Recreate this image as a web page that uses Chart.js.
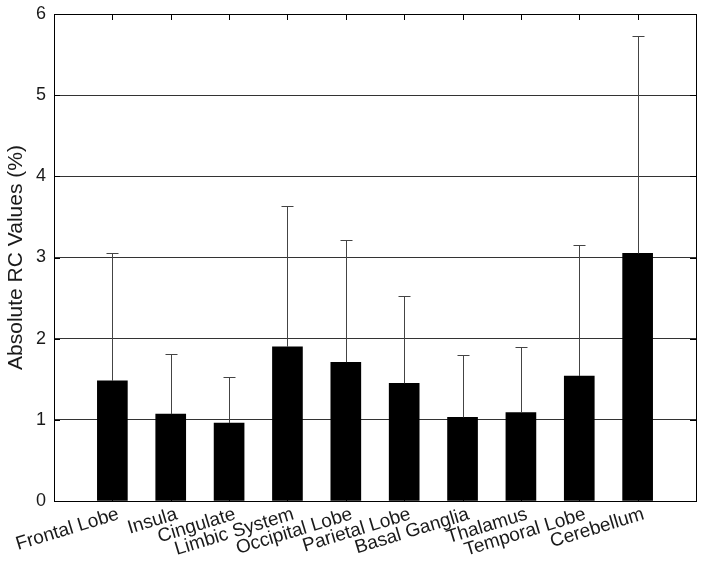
<!DOCTYPE html>
<html>
<head>
<meta charset="utf-8">
<script src="https://cdn.jsdelivr.net/npm/chart.js@4.4.1/dist/chart.umd.min.js"></script>
<style>
  html, body { margin: 0; padding: 0; background: #ffffff; }
  #wrap { width: 704px; height: 570px; }
</style>
</head>
<body>
<div id="wrap"><canvas id="c" width="704" height="570"></canvas></div>
<script>
// ---- data ----
const categories = ['Frontal Lobe', 'Insula', 'Cingulate', 'Limbic System', 'Occipital Lobe',
                    'Parietal Lobe', 'Basal Ganglia', 'Thalamus', 'Temporal Lobe', 'Cerebellum'];
const meanValues = [1.48, 1.07, 0.96, 1.90, 1.71, 1.45, 1.03, 1.09, 1.54, 3.05];
const errorValues = [1.58, 0.74, 0.57, 1.73, 1.50, 1.07, 0.77, 0.81, 1.61, 2.68];
const yTicks = [0, 1, 2, 3, 4, 5, 6];
const yTitle = 'Absolute RC Values (%)';

// axis runs from 0 to 11 like the original: pad with empty slots at both ends
const axisLabels = [''].concat(categories, ['']);
const barData = [null].concat(meanValues, [null]);
const errData = [null].concat(errorValues, [null]);

const FONT = 'Liberation Sans, Arial, Helvetica, sans-serif';

const framePlugin = {
  id: 'frame',
  afterDatasetsDraw(chart) {
    const ctx = chart.ctx;
    const ca = chart.chartArea;
    const xs = chart.scales.x, ys = chart.scales.y;
    const meta = chart.getDatasetMeta(0);
    ctx.save();
    // error bars (upper part)
    ctx.strokeStyle = '#444444';
    ctx.lineWidth = 1;
    meta.data.forEach((el, i) => {
      if (barData[i] == null) return;
      const x = Math.round(el.x) + 0.5;
      const yTop = ys.getPixelForValue(barData[i] + errData[i]);
      ctx.beginPath();
      ctx.moveTo(x, el.y);
      ctx.lineTo(x, Math.round(yTop) + 0.5);
      ctx.moveTo(x - 6, Math.round(yTop) + 0.5);
      ctx.lineTo(x + 6, Math.round(yTop) + 0.5);
      ctx.stroke();
    });
    // inward tick marks
    ctx.strokeStyle = '#000000';
    ctx.beginPath();
    for (let i = 1; i <= categories.length; i++) {
      const x = Math.round(xs.getPixelForValue(i)) + 0.5;
      ctx.moveTo(x, ca.top);
      ctx.lineTo(x, ca.top + 6);
      ctx.moveTo(x, ca.bottom);
      ctx.lineTo(x, ca.bottom - 6);
    }
    yTicks.forEach(v => {
      const y = Math.round(ys.getPixelForValue(v)) + 0.5;
      ctx.moveTo(ca.left, y);
      ctx.lineTo(ca.left + 6, y);
      ctx.moveTo(ca.right, y);
      ctx.lineTo(ca.right - 6, y);
    });
    ctx.stroke();
    // box
    ctx.strokeStyle = '#000000';
    ctx.strokeRect(Math.round(ca.left) + 0.5, Math.round(ca.top) + 0.5,
                   Math.round(ca.right - ca.left), Math.round(ca.bottom - ca.top));
    ctx.restore();
  }
};

const bgPlugin = {
  id: 'bg',
  beforeDraw(chart) {
    const ctx = chart.ctx;
    ctx.save();
    ctx.fillStyle = '#ffffff';
    ctx.fillRect(0, 0, chart.width, chart.height);
    ctx.restore();
  }
};

new Chart(document.getElementById('c'), {
  type: 'bar',
  data: {
    labels: axisLabels,
    datasets: [{
      data: barData,
      backgroundColor: '#000000',
      borderWidth: 0,
      barThickness: 30
    }]
  },
  options: {
    responsive: false,
    animation: false,
    devicePixelRatio: 1,
    layout: { padding: { left: 0, right: 8, top: 14, bottom: 0 } },
    plugins: { legend: { display: false }, tooltip: { enabled: false } },
    scales: {
      x: {
        offset: false,
        grid: { display: false, drawTicks: false },
        border: { display: false },
        ticks: {
          autoSkip: false,
          minRotation: 17,
          maxRotation: 17,
          padding: 2,
          labelOffset: 6,
          color: '#1a1a1a',
          font: { family: FONT, size: 19 }
        },
        afterFit(scale) {
          scale.height = 69;
          scale.paddingLeft = 0;
          scale.paddingRight = 0;
        }
      },
      y: {
        min: 0,
        max: 6,
        afterBuildTicks(scale) { scale.ticks = yTicks.map(v => ({ value: v })); },
        grid: { color: '#333333', lineWidth: 1, drawTicks: false },
        border: { display: false },
        ticks: {
          padding: 8,
          color: '#1a1a1a',
          font: { family: FONT, size: 18 }
        },
        title: {
          display: true,
          text: yTitle,
          color: '#1a1a1a',
          font: { family: FONT, size: 21 },
          padding: { top: 4, bottom: 0 }
        },
        afterFit(scale) {
          scale.width = 54;
          scale.paddingTop = 0;
          scale.paddingBottom = 0;
        }
      }
    }
  },
  plugins: [bgPlugin, framePlugin]
});
</script>
</body>
</html>
